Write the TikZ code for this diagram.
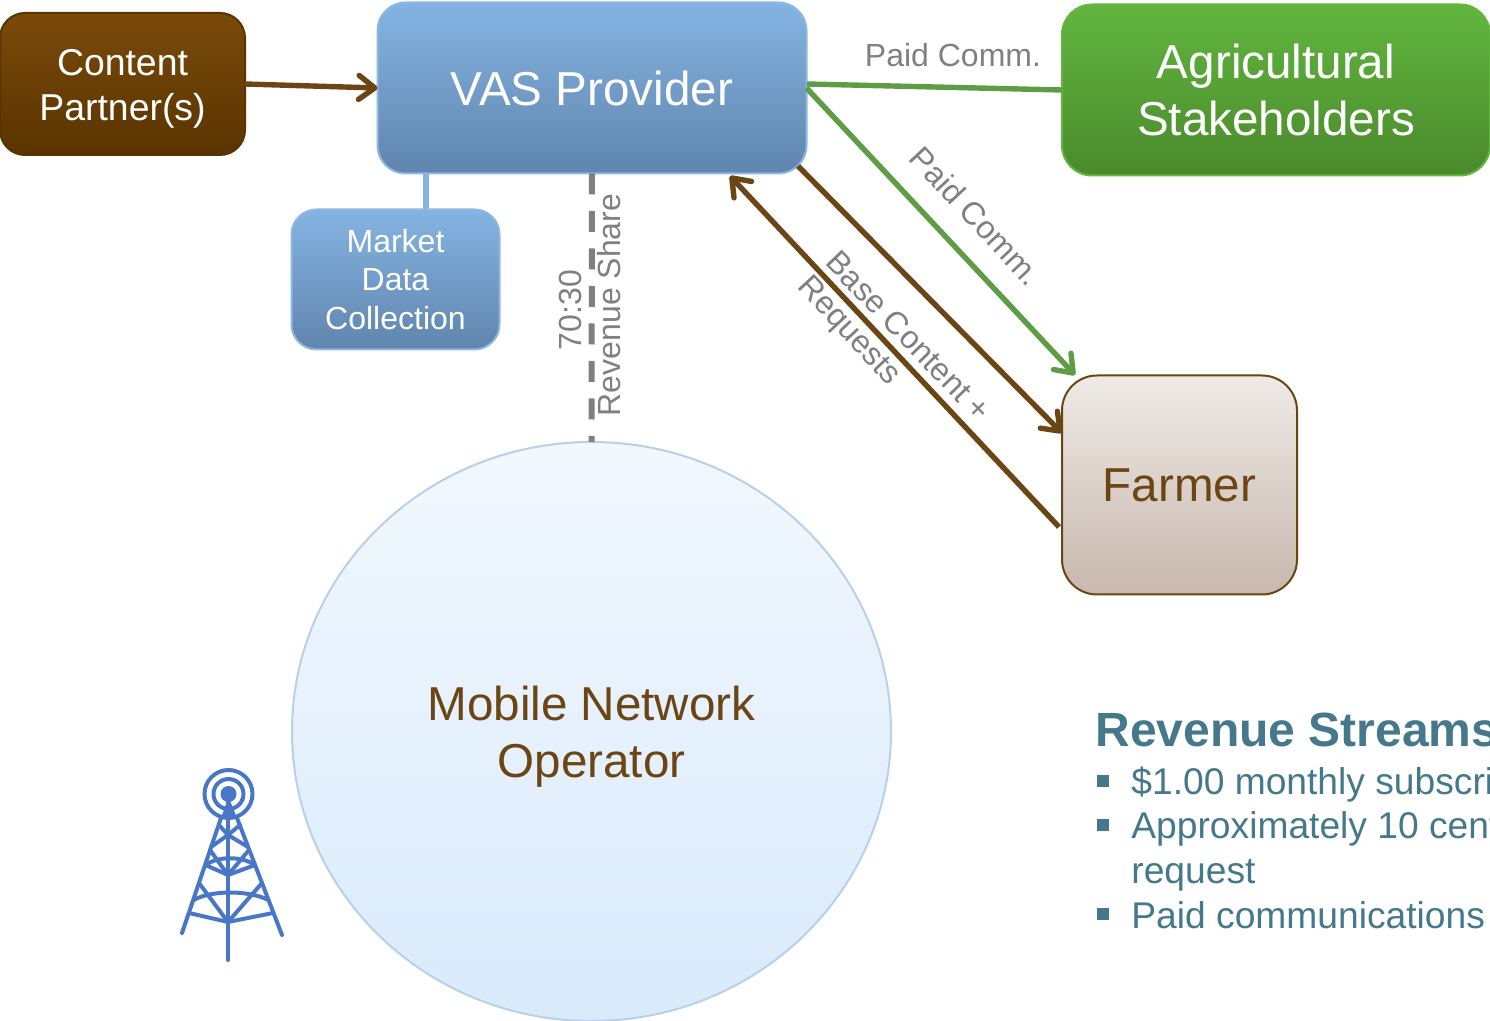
\documentclass[tikz,border=0pt]{standalone}
\usepackage{fontspec}
\setmainfont{Liberation Sans}
\usetikzlibrary{arrows.meta,shapes.geometric}
\definecolor{brownline}{HTML}{6B4513}
\definecolor{greenline}{HTML}{5E9C45}
\definecolor{greytext}{HTML}{808080}
\definecolor{tealtext}{HTML}{44788A}
\definecolor{bluestroke}{HTML}{8DB8E2}
\definecolor{towerblue}{HTML}{4A76C8}
\definecolor{bluetop}{HTML}{85B4E2}
\definecolor{bluebot}{HTML}{6085AE}
\definecolor{cptop}{HTML}{7A4A0A}
\definecolor{cpbot}{HTML}{5A3400}
\definecolor{agtop}{HTML}{62B53F}
\definecolor{agbot}{HTML}{4A8A2C}
\definecolor{farmertop}{HTML}{EFEAE6}
\definecolor{farmerbot}{HTML}{C8B8AE}
\definecolor{circletop}{HTML}{F2F8FE}
\definecolor{circlebot}{HTML}{D9EAFB}
\definecolor{circlestroke}{HTML}{B8D0E8}
\tikzset{
  boxbase/.style={rounded corners=#1, inner sep=0pt, outer sep=0pt, align=center, line width=1pt},
  bluebox/.style={boxbase=#1, draw=bluestroke, top color=bluetop, bottom color=bluebot, text=white},
  lbl/.style={text=greytext, inner sep=0pt, align=center, font=\fontsize{16}{19.2}\selectfont},
  bigfont/.style={font=\fontsize{23.8}{28.5}\selectfont},
  conn/.style={line width=2.7pt, -{Straight Barb[length=8pt,width=12pt,line width=2.7pt,round]}},
  brownconn/.style={conn, draw=brownline},
  greenconn/.style={conn, draw=greenline},
  tw/.style={draw=towerblue, line width=2pt, line cap=round, line join=round},
  liststyle/.style={text=tealtext, anchor=base west, inner sep=0pt, font=\fontsize{18.6}{22}\selectfont},
  bulletbox/.style={fill=tealtext, inner sep=0pt, minimum size=6pt}
}
\begin{document}
\begin{tikzpicture}[x=0.5pt,y=-0.5pt]
\useasboundingbox (0,0) rectangle (1490,1021);
\clip (0,0) rectangle (1490,1021);
% boxes
\node[boxbase=12.5pt, draw=cpbot, top color=cptop, bottom color=cpbot, text=white,
      minimum width=122.5pt, minimum height=71pt, font=\fontsize{18.7}{22.5}\selectfont] (content) at (122.5,84) {\raisebox{-2.5pt}[\height][\depth]{\begin{tabular}{@{}c@{}}Content\\Partner(s)\end{tabular}}};
\node[bluebox=14pt, minimum width=214.5pt, minimum height=85.5pt, bigfont] (vas) at (592,88) {VAS Provider};
\node[boxbase=15pt, draw=agtop, top color=agtop, bottom color=agbot, text=white,
      minimum width=214pt, minimum height=85.5pt, bigfont] (agri) at (1276,90) {Agricultural\\Stakeholders};
\node[bluebox=12.5pt, minimum width=104pt, minimum height=70pt, font=\fontsize{16}{19.25}\selectfont] (market) at (395.5,279.5) {Market\\Data\\Collection};
\node[boxbase=17.5pt, draw=brownline, top color=farmertop, bottom color=farmerbot, text=brownline,
      minimum width=117.5pt, minimum height=109.5pt, bigfont] (farmer) at (1179.5,485) {Farmer};
\node[ellipse, draw=circlestroke, line width=1pt, top color=circletop, bottom color=circlebot, text=brownline, align=center,
      minimum width=299.5pt, minimum height=289.5pt, inner sep=0pt, outer sep=0pt, bigfont] (mno) at (591.5,731.5) {\raisebox{-3pt}[\height][\depth]{\begin{tabular}{@{}c@{}}Mobile Network\\Operator\end{tabular}}};
% connector end points on the box borders
\coordinate (vasG) at (807,84);
\coordinate (vasSE) at (798,166);
\coordinate (vasBR) at (730,176);
\coordinate (vasMk) at (426,173);
\coordinate (mkTop) at (426,209);
\coordinate (farmG) at (1075,375);
\coordinate (farmB) at (1062,433);
\coordinate (farmR) at (1059,527);
% connectors
\draw[brownconn] (content.east) -- (vas.west);
\draw[line width=2.7pt, draw=greenline] (vasG) -- (agri.west);
\draw[greenconn] (vas.east) -- (farmG);
\draw[brownconn] (vasSE) -- (farmB);
\draw[brownconn] (farmR) -- (vasBR);
\draw[line width=3pt, draw=bluetop] (vasMk) -- (mkTop);
\draw[line width=3pt, draw=greytext, dash pattern=on 10.5pt off 8.25pt] (vas.south) -- (mno.north);
% labels
\node[lbl] (l1) at (953,55) {Paid Comm.};
\node[lbl, rotate=-47] (l2) at (976,216) {Paid Comm.};
\node[lbl, rotate=-46] (l3) at (909,336) {Base Content +};
\node[lbl, rotate=-47] (l4) at (848,332) {Requests};
\node[lbl, rotate=90] (l5) at (570,310) {70:30};
\node[lbl, rotate=90] (l6) at (609,305) {Revenue Share};
% revenue streams
\node[text=tealtext, anchor=base west, inner sep=0pt, font=\fontsize{24}{28}\selectfont\bfseries] (rs) at (1095,746.5) {Revenue Streams};
\node[bulletbox] (b1) at (1103,781) {};
\node[liststyle] (t1) at (1131,794) {\$1.00 monthly subscri};
\node[bulletbox] (b2) at (1103,825) {};
\node[liststyle] (t2) at (1131,838) {Approximately 10 cent};
\node[liststyle] (t3) at (1131,883) {request};
\node[bulletbox] (b3) at (1103,914) {};
\node[liststyle] (t4) at (1131,928) {Paid communications};
% tower
\draw[tw] (228.5,794) circle (24);
\draw[tw] (228.5,794) circle (15);
\fill[towerblue] (228.5,794) circle (8);
\fill[towerblue] (221,818) -- (228.5,797) -- (237,818) -- cycle;
\draw[tw] (228,795) -- (228,960);
\draw[tw] (221,818) -- (182,933);
\draw[tw] (237,818) -- (282,935);
\draw[tw] (189,913) -- (228,922) -- (273,913);
\draw[tw] (193.5,900) .. controls (212,890) and (248,890) .. (268.5,900);
\draw[tw] (199,883) -- (228,922) -- (262,883);
\draw[tw] (205.5,865) -- (228,875) -- (255,865);
\draw[tw] (205.5,865) .. controls (218,856) and (242,856) .. (255,865);
\draw[tw] (210,850) -- (228,875) -- (249,850);
\draw[tw] (211,847) -- (228,835) -- (248,847);
\draw[tw] (219,825) -- (228,835) -- (240,825);
\end{tikzpicture}
\end{document}
